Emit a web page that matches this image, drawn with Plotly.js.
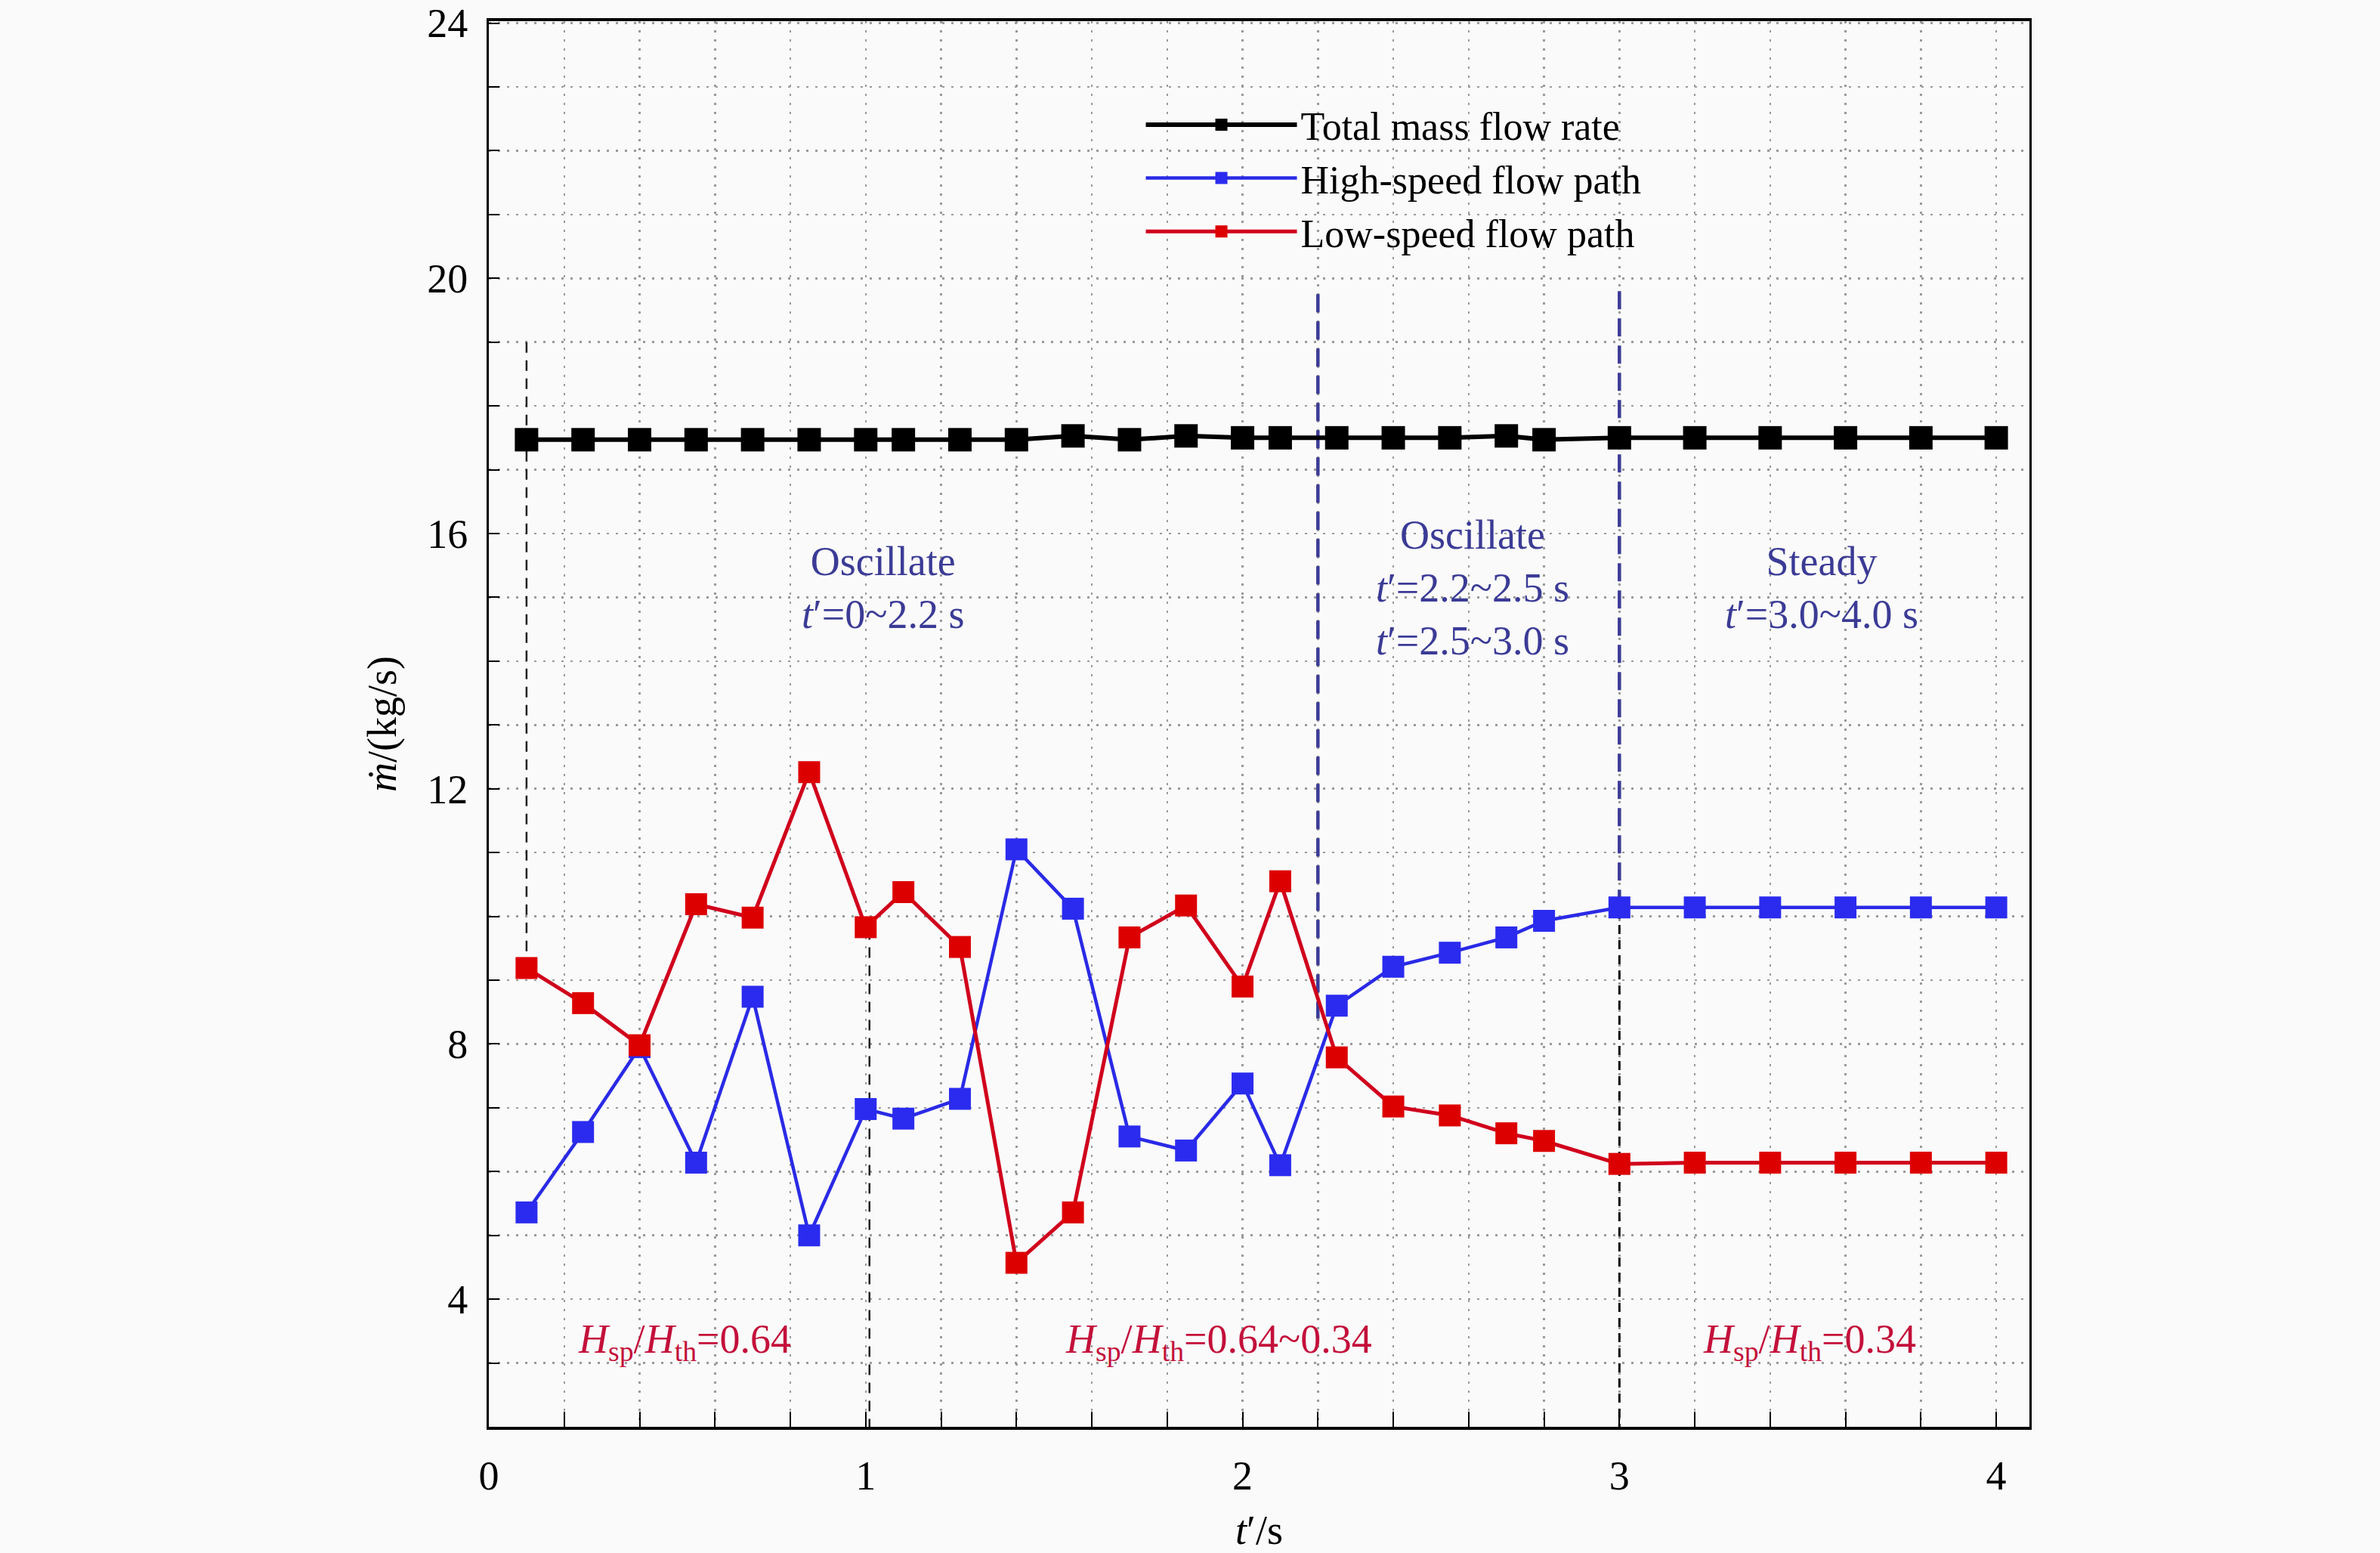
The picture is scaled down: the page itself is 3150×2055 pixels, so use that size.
<!DOCTYPE html>
<html>
<head>
<meta charset="utf-8">
<script src="https://cdn.plot.ly/plotly-3.0.1.min.js"></script>
<style>
  html, body { margin: 0; padding: 0; background: #fafafa; }
  #chart { width: 3150px; height: 2055px; }
</style>
</head>
<body>
<div id="chart"></div>
<script>
// sample times t' (s)
var tPoints = [0.1, 0.25, 0.4, 0.55, 0.7, 0.85, 1.0, 1.1, 1.25, 1.4, 1.55, 1.7, 1.85, 2.0, 2.1,
               2.25, 2.4, 2.55, 2.7, 2.8, 3.0, 3.2, 3.4, 3.6, 3.8, 4.0]

// mass flow rate (kg/s)
var totalFlow = [17.47, 17.47, 17.47, 17.47, 17.47, 17.47, 17.47, 17.47, 17.47, 17.47, 17.53, 17.47, 17.53, 17.5, 17.5,
                 17.5, 17.5, 17.5, 17.53, 17.47, 17.5, 17.5, 17.5, 17.5, 17.5, 17.5]
var highSpeed = [5.36, 6.62, 7.95, 6.14, 8.74, 5.0, 6.98, 6.83, 7.14, 11.05, 10.12, 6.55, 6.33, 7.38, 6.1,
                 8.6, 9.21, 9.43, 9.67, 9.93, 10.14, 10.14, 10.14, 10.14, 10.14, 10.14]
var lowSpeed = [9.19, 8.64, 7.98, 10.19, 9.98, 12.26, 9.83, 10.38, 9.52, 4.57, 5.36, 9.67, 10.17, 8.9, 10.55,
                7.79, 7.02, 6.88, 6.6, 6.48, 6.12, 6.14, 6.14, 6.14, 6.14, 6.14]

var seriesNames = ['Total mass flow rate', 'High-speed flow path', 'Low-speed flow path']

// phase divider lines: x, top, bottom
var dividerX = [0.1, 1.01, 2.2, 3.0, 3.0]
var dividerTop = [19.0, 9.8, 19.75, 19.8, 10.1]
var dividerBottom = [9.2, 2, 8.4, 10.1, 2]

// phase labels
var phaseText = ['Oscillate<br><i>t</i>′=0~2.2 s',
                 'Oscillate<br><i>t</i>′=2.2~2.5 s<br><i>t</i>′=2.5~3.0 s',
                 'Steady<br><i>t</i>′=3.0~4.0 s']
var phaseX = [1.047, 2.61, 3.536]
var phaseY = [15.15, 15.15, 15.15]

var ratioText = ['<i>H</i><sub>sp</sub>/<i>H</i><sub>th</sub>=0.64',
                 '<i>H</i><sub>sp</sub>/<i>H</i><sub>th</sub>=0.64~0.34',
                 '<i>H</i><sub>sp</sub>/<i>H</i><sub>th</sub>=0.34']
var ratioX = [0.52, 1.937, 3.504]
var ratioY = [3.33, 3.33, 3.33]

var navy = '#3b3b96'
var dividerStyle = [
  {color: '#222', width: 2.5, dash: '14px,10px'},
  {color: '#222', width: 2.5, dash: '14px,10px'},
  {color: navy, width: 4.5, dash: '24px,12px'},
  {color: navy, width: 4.5, dash: '24px,12px'},
  {color: '#111', width: 3, dash: '12px,8px'}
]

var font = 'Liberation Serif, Times New Roman, serif'

var data = []
for (var i = 0; i < dividerX.length; i++) {
  data.push({
    x: [dividerX[i], dividerX[i]],
    y: [dividerTop[i], dividerBottom[i]],
    mode: 'lines',
    type: 'scatter',
    line: dividerStyle[i],
    showlegend: false,
    hoverinfo: 'skip'
  })
}

data.push({
  x: tPoints, y: totalFlow, name: seriesNames[0],
  mode: 'lines+markers', type: 'scatter',
  line: {color: '#000', width: 6},
  marker: {symbol: 'square', size: 31, color: '#000'}
})
data.push({
  x: tPoints, y: highSpeed, name: seriesNames[1],
  mode: 'lines+markers', type: 'scatter',
  line: {color: '#2a2ae6', width: 4.5},
  marker: {symbol: 'square', size: 29, color: '#2b2bef'}
})
data.push({
  x: tPoints, y: lowSpeed, name: seriesNames[2],
  mode: 'lines+markers', type: 'scatter',
  line: {color: '#d0001c', width: 5},
  marker: {symbol: 'square', size: 29, color: '#dd0000'}
})

var annotations = []
for (var i = 0; i < phaseText.length; i++) {
  annotations.push({
    x: phaseX[i], y: phaseY[i], xref: 'x', yref: 'y',
    text: phaseText[i], showarrow: false,
    font: {family: font, size: 54, color: navy}
  })
}
for (var i = 0; i < ratioText.length; i++) {
  annotations.push({
    x: ratioX[i], y: ratioY[i], xref: 'x', yref: 'y',
    text: ratioText[i], showarrow: false,
    font: {family: font, size: 54, color: '#c3103a'}
  })
}

var gridColor = '#9a9a9a'
var gridDash = '3px,9px'

var layout = {
  width: 3150,
  height: 2055,
  paper_bgcolor: '#fafafa',
  plot_bgcolor: '#fafafa',
  margin: {l: 647, r: 464, t: 28, b: 167},
  font: {family: font, size: 54, color: '#000'},
  showlegend: true,
  legend: {
    x: 0.424, y: 0.948, xanchor: 'left', yanchor: 'top',
    bgcolor: 'rgba(0,0,0,0)',
    font: {family: font, size: 52, color: '#000'},
    itemwidth: 200,
    tracegroupgap: 0
  },
  xaxis: {
    range: [0, 4.088],
    tick0: 0, dtick: 1,
    ticks: 'inside', ticklen: 20, tickwidth: 2, tickcolor: '#000',
    showline: true, linecolor: '#000', linewidth: 4, mirror: true,
    showgrid: true, gridcolor: gridColor, gridwidth: 2.5, griddash: gridDash,
    zeroline: false,
    ticklabelstandoff: 14,
    minor: {dtick: 0.2, ticks: 'inside', ticklen: 20, tickwidth: 2, tickcolor: '#000',
            showgrid: true, gridcolor: gridColor, gridwidth: 2.5, griddash: gridDash},
    tickfont: {family: font, size: 54},
    title: {text: '<i>t</i>′/s', font: {family: font, size: 54}, standoff: 40}
  },
  yaxis: {
    range: [2, 24.03],
    tick0: 0, dtick: 4,
    ticks: 'inside', ticklen: 14, tickwidth: 2, tickcolor: '#000',
    showline: true, linecolor: '#000', linewidth: 3, mirror: true,
    showgrid: true, gridcolor: gridColor, gridwidth: 2.5, griddash: gridDash,
    zeroline: false,
    ticklabelstandoff: 14,
    minor: {dtick: 1, ticks: 'inside', ticklen: 14, tickwidth: 2, tickcolor: '#000',
            showgrid: true, gridcolor: gridColor, gridwidth: 2.5, griddash: gridDash},
    tickfont: {family: font, size: 54},
    title: {text: '<i>ṁ</i>/(kg/s)', font: {family: font, size: 54}, standoff: 24}
  },
  annotations: annotations
}

Plotly.newPlot('chart', data, layout, {staticPlot: true})
</script>
</body>
</html>
